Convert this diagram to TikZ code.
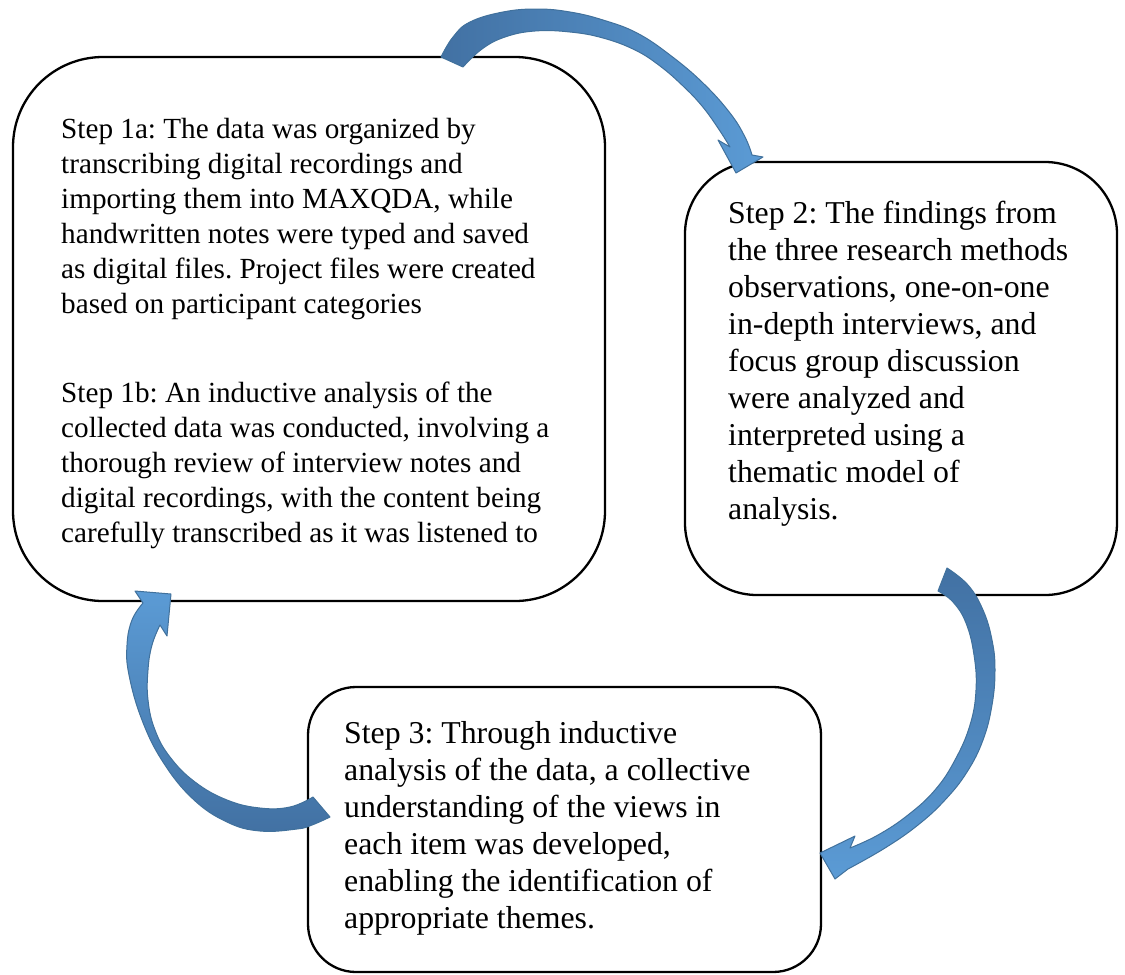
\documentclass[tikz,border=0pt]{standalone}
\usepackage{fontspec}
\setmainfont{Liberation Serif}
\frenchspacing
\definecolor{adark}{RGB}{66,113,163}
\definecolor{alight}{RGB}{91,155,213}
\definecolor{aline}{RGB}{65,113,156}
\tikzset{
  stepbox/.style={draw=black, line width=2.3pt, fill=white, inner sep=0pt},
  txtA/.style={anchor=north west, inner sep=0pt, align=left,
    font=\fontsize{29.2pt}{35pt}\selectfont},
  txtB/.style={anchor=north west, inner sep=0pt, align=left,
    font=\fontsize{31.8pt}{37pt}\selectfont},
  blockarrow/.style={draw=aline, line width=1pt, line join=round},
}
\begin{document}
\begin{tikzpicture}[x=1pt,y=-1pt]
\useasboundingbox (0,0) rectangle (1125,975);

% boxes
\node[stepbox, minimum width=592pt, minimum height=544pt, rounded corners=90pt] (box1) at (309,329) {};
\node[stepbox, minimum width=432pt, minimum height=433pt, rounded corners=72pt] (box2) at (901,378.5) {};
\node[stepbox, minimum width=513pt, minimum height=285pt, rounded corners=48pt] (box3) at (564.5,829.5) {};

% texts
\node[txtA] (t1a) at (61,113.5) {\strut Step 1a: The data was organized by\\
transcribing digital recordings and\\
importing them into MAXQDA, while\\
handwritten notes were typed and saved\\
as digital files. Project files were created\\
based on participant categories};
\node[txtA] (t1b) at (61,377.5) {\strut Step 1b: An inductive analysis of the\\
collected data was conducted, involving a\\
thorough review of interview notes and\\
digital recordings, with the content being\\
carefully transcribed as it was listened to};
\node[txtB] (t2) at (728,197.1) {\strut Step 2: The findings from\\
the three research methods\\
observations, one-on-one\\
in-depth interviews, and\\
focus group discussion\\
were analyzed and\\
interpreted using a\\
thematic model of\\
analysis.};
\node[txtB] (t3) at (344,717.6) {\strut Step 3: Through inductive\\
analysis of the data, a collective\\
understanding of the views in\\
each item was developed,\\
enabling the identification of\\
appropriate themes.};

% arrow 1: box1 -> box2
\path[blockarrow, left color=adark, right color=alight]
  plot[smooth, tension=0.7] coordinates {(441,57) (453,37) (470,22) (503,12) (537,9) (570,12) (603,20) (637,33) (670,55) (703,83) (730,113) (745,137) (752,155)}
  -- (763,157) -- (736,173) -- (718,140) -- (730,147)
  -- plot[smooth, tension=0.7] coordinates {(730,147) (718,128) (702,106) (683,86) (660,66) (635,50) (603,38) (570,32) (535,31) (505,37) (482,49) (463,67)}
  -- cycle;

% arrow 2: box2 -> box3
\path[blockarrow, top color=adark, bottom color=alight]
  plot[smooth, tension=0.7] coordinates {(947,568) (968,585) (983,610) (992,640) (995,670) (992,705) (983,740) (967,772) (945,800) (918,825) (885,848) (848,869)}
  -- (835,879) -- (820,853) -- (855,836) -- (850,848)
  -- plot[smooth, tension=0.7] coordinates {(850,848) (878,835) (908,815) (935,790) (955,760) (970,725) (976,690) (974,655) (966,623) (953,602) (938,591)}
  -- cycle;

% arrow 3: box3 -> box1
\path[blockarrow, top color=alight, bottom color=adark]
  plot[smooth, tension=0.7] coordinates {(330,817) (312,825) (297,829) (260,831) (227,822) (193,799) (163,762) (142,720) (129,675) (127,645) (132,620) (143,603)}
  -- (135,591) -- (171,594) -- (167,636) -- (160,625)
  -- plot[smooth, tension=0.7] coordinates {(160,625) (152,645) (148,670) (148,700) (155,730) (170,757) (195,782) (227,800) (260,808) (290,807) (313,797)}
  -- cycle;
\end{tikzpicture}
\end{document}
